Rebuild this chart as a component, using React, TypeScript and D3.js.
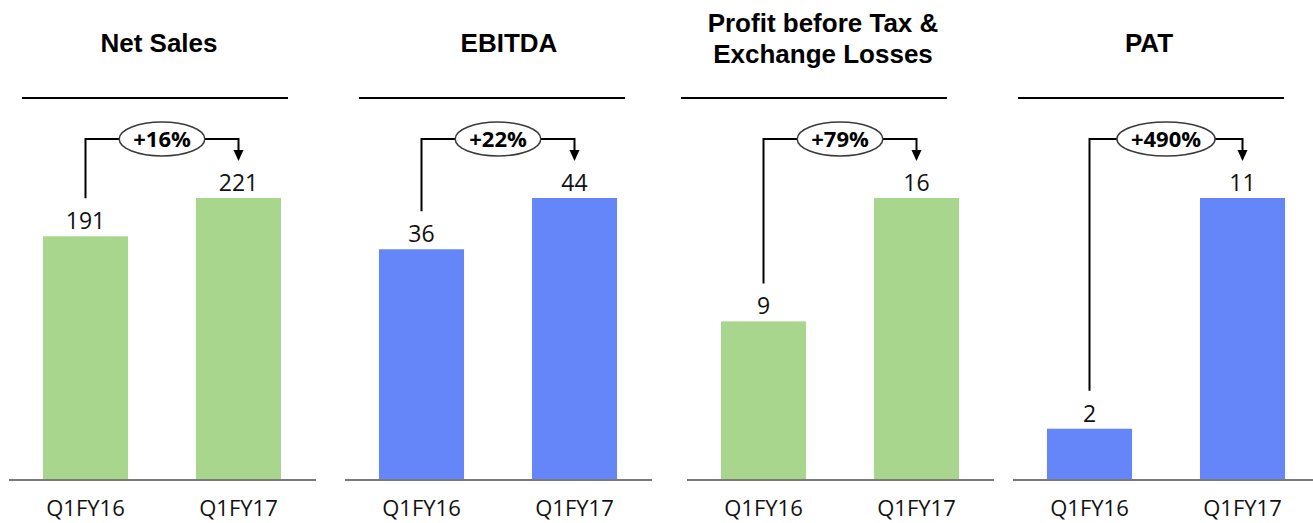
import { useEffect, useRef } from "react";
import * as d3 from "d3";

// Chart data
const panelTitles = [["Net Sales"], ["EBITDA"], ["Profit before Tax &", "Exchange Losses"], ["PAT"]];
const periods = ["Q1FY16", "Q1FY17"];
const prevValues = [191, 36, 9, 2];
const currValues = [221, 44, 16, 11];
const growthLabels = ["+16%", "+22%", "+79%", "+490%"];

// Layout (slide positions of each panel)
const panelX = [9, 345, 687, 1013];
const titleLineX = [22, 359, 681, 1018];
const titleCenterX = [159, 509, 823, 1149];
const barColors = ["#A7D68C", "#6486F8", "#A7D68C", "#6486F8"];

const WIDTH = 1313;
const HEIGHT = 523;
const BASE_Y = 480;
const TOP_Y = 198;
const BRACKET_Y = 139;

export default function App() {
  const svgRef = useRef<SVGSVGElement>(null);

  useEffect(() => {
    if (!svgRef.current) return;
    document.body.style.margin = "0";

    const svg = d3.select(svgRef.current);
    svg.selectAll("*").remove();

    panelTitles.forEach((title, i) => {
      const g = svg.append("g");
      const values = [prevValues[i], currValues[i]];

      const x = d3.scaleBand<string>()
        .domain(periods)
        .range([panelX[i], panelX[i] + 306])
        .paddingInner(0.444)
        .paddingOuter(0.222);

      const y = d3.scaleLinear()
        .domain([0, d3.max(values) as number])
        .range([BASE_Y, TOP_Y]);

      // Title
      const titleText = g.append("text")
        .attr("text-anchor", "middle")
        .attr("font-family", "'Liberation Sans', Arial, sans-serif")
        .attr("font-weight", "bold")
        .attr("font-size", "26px")
        .attr("fill", "#000");
      const firstBaseline = title.length > 1 ? 32 : 52;
      title.forEach((line, j) => {
        titleText.append("tspan")
          .attr("x", titleCenterX[i])
          .attr("y", firstBaseline + j * 31)
          .text(line);
      });

      // Rule under title
      g.append("line")
        .attr("x1", titleLineX[i])
        .attr("x2", titleLineX[i] + 266)
        .attr("y1", 98)
        .attr("y2", 98)
        .attr("stroke", "#000")
        .attr("stroke-width", 2);

      // Bars
      g.selectAll("rect.bar")
        .data(values)
        .enter()
        .append("rect")
        .attr("class", "bar")
        .attr("x", (_, k) => x(periods[k]) as number)
        .attr("width", x.bandwidth())
        .attr("y", d => y(d))
        .attr("height", d => BASE_Y - y(d))
        .attr("fill", barColors[i]);

      // Baseline
      g.append("line")
        .attr("x1", panelX[i])
        .attr("x2", panelX[i] + 307)
        .attr("y1", BASE_Y)
        .attr("y2", BASE_Y)
        .attr("stroke", "#7a7a7a")
        .attr("stroke-width", 2);

      // Value labels
      g.selectAll("text.value")
        .data(values)
        .enter()
        .append("text")
        .attr("class", "value")
        .attr("x", (_, k) => (x(periods[k]) as number) + x.bandwidth() / 2)
        .attr("y", d => y(d) - 7)
        .attr("text-anchor", "middle")
        .attr("font-family", "'Open Sans', sans-serif")
        .attr("font-size", "23px")
        .attr("fill", "#111")
        .text(d => d);

      // Period labels
      g.selectAll("text.period")
        .data(periods)
        .enter()
        .append("text")
        .attr("class", "period")
        .attr("x", d => (x(d) as number) + x.bandwidth() / 2)
        .attr("y", 516)
        .attr("text-anchor", "middle")
        .attr("font-family", "'Open Sans', sans-serif")
        .attr("font-size", "22px")
        .attr("fill", "#111")
        .text(d => d);

      // Growth bracket
      const leftX = (x(periods[0]) as number) + x.bandwidth() / 2;
      const rightX = (x(periods[1]) as number) + x.bandwidth() / 2;
      const midX = (leftX + rightX) / 2;

      g.append("path")
        .attr("d", `M${leftX},${y(prevValues[i]) - 38}V${BRACKET_Y}H${rightX}V151`)
        .attr("fill", "none")
        .attr("stroke", "#000")
        .attr("stroke-width", 2);

      g.append("path")
        .attr("d", `M${rightX - 5},150L${rightX + 5},150L${rightX},161Z`)
        .attr("fill", "#000");

      const ellipse = g.append("ellipse")
        .attr("cx", midX)
        .attr("cy", BRACKET_Y)
        .attr("ry", 17)
        .attr("fill", "#fff")
        .attr("stroke", "#3a3a3a")
        .attr("stroke-width", 1.5);

      const pct = g.append("text")
        .attr("x", midX)
        .attr("y", BRACKET_Y + 8)
        .attr("text-anchor", "middle")
        .attr("font-family", "'Open Sans', sans-serif")
        .attr("font-weight", "bold")
        .attr("font-size", "22px")
        .attr("fill", "#000")
        .text(growthLabels[i]);

      const w = (pct.node() as SVGTextElement).getComputedTextLength();
      ellipse.attr("rx", w / 2 + 14);
    });
  }, []);

  return (
    <svg
      ref={svgRef}
      width={WIDTH}
      height={HEIGHT}
      style={{ display: "block", background: "#fff" }}
    />
  );
}
